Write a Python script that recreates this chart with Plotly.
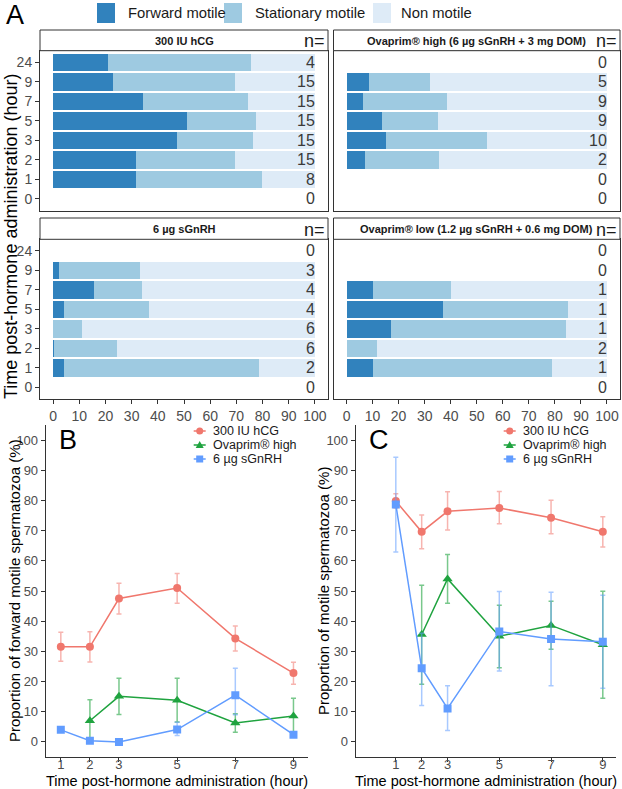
import plotly.graph_objects as go

W, H = 622, 789

# ---------------- data ----------------
hours_cat = ["0", "1", "2", "3", "5", "7", "9", "24"]
hours_num = [1, 2, 3, 5, 7, 9]
pct_ticks = list(range(0, 101, 10))

# mean forward-motile % and mean total-motile % per sampling time (None = not sampled)
hcg_forward = [None, 31.5, 31.5, 47.5, 51.0, 34.3, 22.8, 20.9]
hcg_motile = [None, 79.8, 69.6, 76.4, 77.5, 74.3, 69.6, 75.4]
hcg_n = [0, 8, 15, 15, 15, 15, 15, 4]

ovh_forward = [None, None, 7.0, 15.1, 13.8, 6.3, 8.6, None]
ovh_motile = [None, None, 35.6, 54.0, 35.0, 38.6, 32.2, None]
ovh_n = [0, 0, 2, 10, 9, 9, 5, 0]

sg_forward = [None, 4.0, 0.4, 0.0, 4.1, 15.5, 2.4, None]
sg_motile = [None, 78.7, 24.4, 11.1, 36.6, 34.1, 33.2, None]
sg_n = [0, 2, 6, 6, 4, 4, 3, 0]

ovl_forward = [None, 10.1, 0.0, 17.1, 37.1, 10.1, None, None]
ovl_motile = [None, 79.0, 11.6, 84.1, 85.2, 40.0, None, None]
ovl_n = [0, 1, 2, 1, 1, 1, 0, 0]

# error bar limits (upper / lower) at hours 1,2,3,5,7,9
hcg_fwd_hi = [36.3, 36.5, 52.6, 55.8, 38.4, 26.4]
hcg_fwd_lo = [26.7, 26.5, 42.4, 45.9, 30.1, 19.1]
ovh_fwd_hi = [None, 14.0, 21.1, 21.1, 9.3, 14.5]
ovh_fwd_lo = [None, 0.5, 9.1, 6.6, 3.2, 2.5]
sg_fwd_hi = [4.6, 0.9, 0.3, 6.5, 24.4, 3.3]
sg_fwd_lo = [3.4, 0.0, 0.0, 2.1, 9.0, 1.6]

hcg_mot_hi = [82.2, 75.2, 82.9, 83.0, 80.1, 74.6]
hcg_mot_lo = [77.5, 64.0, 70.2, 72.3, 69.0, 64.6]
ovh_mot_hi = [None, 51.9, 62.1, 45.3, 46.6, 49.9]
ovh_mot_lo = [None, 19.1, 45.9, 24.6, 30.7, 14.5]
sg_mot_hi = [94.3, 36.0, 18.6, 49.8, 49.6, 48.6]
sg_mot_lo = [62.9, 12.1, 3.8, 23.5, 18.6, 17.8]

categories = ["Forward motile", "Stationary motile", "Non motile"]
group_labels = ["300 IU hCG", "Ovaprim® high", "6 µg sGnRH"]

# ---------------- styles ----------------
FONT = "Liberation Sans, Arial, sans-serif"
BAR_COLORS = ["#3182BD", "#9ECAE1", "#DEEBF7"]
LINE_COLORS = ["#F0776D", "#1FA33F", "#619CFF"]
ERR_COLORS = ["rgba(240,119,109,0.55)", "rgba(31,163,63,0.6)", "rgba(97,156,255,0.55)"]
SYMBOLS = ["circle", "triangle-up", "square"]
SIZES = [8, 9, 8]
AX = "#333333"
TICK = "#4D4D4D"


def px(x):
    return x / W


def py(y):
    return 1 - y / H


fig = go.Figure()
annotations = []
shapes = []

# ---------------- panel A ----------------
panels = [
    ("", hcg_forward, hcg_motile, hcg_n, "300 IU hCG", (40, 328), (50.7, 210.7), (30, 50.7), True, False),
    ("2", ovh_forward, ovh_motile, ovh_n, "Ovaprim® high (6 µg sGnRH + 3 mg DOM)", (333.5, 620), (50.7, 210.7), (30, 50.7), False, False),
    ("3", sg_forward, sg_motile, sg_n, "6 µg sGnRH", (40, 328), (239.3, 399), (218, 239.3), True, True),
    ("4", ovl_forward, ovl_motile, ovl_n, "Ovaprim® low (1.2 µg sGnRH + 0.6 mg DOM)", (333.5, 620), (239.3, 399), (218, 239.3), False, True),
]

for suf, fwd, mot, nn, title, (x0, x1), (y0, y1), (s0, s1), left, bottom in panels:
    stat = [None if m is None else round(m - f, 2) for f, m in zip(fwd, mot)]
    non = [None if m is None else round(100 - m, 2) for m in mot]
    for vals, col, name in zip([fwd, stat, non], BAR_COLORS, categories):
        fig.add_trace(go.Bar(x=vals, y=hours_cat, orientation="h", width=0.9,
                             marker=dict(color=col, line=dict(width=0)), name=name,
                             showlegend=False, hoverinfo="skip",
                             xaxis="x" + suf, yaxis="y" + suf))
    for i, n in enumerate(nn):
        annotations.append(dict(x=100.8, y=i, xref="x" + suf, yref="y" + suf, text=str(n),
                                showarrow=False, xanchor="right", yanchor="middle",
                                font=dict(family=FONT, size=16, color="#3A3A3A")))
    fig.layout["xaxis" + suf] = dict(domain=[px(x0), px(x1)], range=[-5, 105], anchor="y" + suf,
                                     tickvals=pct_ticks, showticklabels=bottom,
                                     ticks="outside" if bottom else "", ticklen=4, tickcolor=AX,
                                     showline=True, mirror=True, linecolor=AX, linewidth=1,
                                     showgrid=False, zeroline=False,
                                     tickfont=dict(family=FONT, size=14, color=TICK))
    fig.layout["yaxis" + suf] = dict(domain=[py(y1), py(y0)], type="category",
                                     categoryorder="array", categoryarray=hours_cat,
                                     range=[-0.6, 7.6], anchor="x" + suf,
                                     showticklabels=left, ticks="outside" if left else "",
                                     ticklen=4, tickcolor=AX,
                                     showline=True, mirror=True, linecolor=AX, linewidth=1,
                                     showgrid=False, zeroline=False,
                                     tickfont=dict(family=FONT, size=14, color=TICK))
    shapes.append(dict(type="rect", xref="paper", yref="paper", x0=px(x0), x1=px(x1),
                       y0=py(s1), y1=py(s0), line=dict(color=AX, width=1), fillcolor="white"))
    annotations.append(dict(x=px((x0 + x1) / 2), y=py((s0 + s1) / 2 + 0.5), xref="paper", yref="paper",
                            text="<b>" + title + "</b>", showarrow=False,
                            xanchor="center", yanchor="middle",
                            font=dict(family=FONT, size=11, color="#1A1A1A")))
    annotations.append(dict(x=px(x1 - 1), y=py((s0 + s1) / 2 + 1), xref="paper", yref="paper",
                            text="n=", showarrow=False, xanchor="right", yanchor="middle",
                            font=dict(family=FONT, size=18, color="#1A1A1A")))

# panel A legend
leg_sq = [(97, 115), (224, 242), (373, 391)]
leg_tx = [126, 253, 399]
for (a, b), t, col, lab in zip(leg_sq, leg_tx, BAR_COLORS, categories):
    shapes.append(dict(type="rect", xref="paper", yref="paper", x0=px(a), x1=px(b),
                       y0=py(23), y1=py(3), line=dict(width=0), fillcolor=col))
    annotations.append(dict(x=px(t), y=py(13.5), xref="paper", yref="paper", text=lab,
                            showarrow=False, xanchor="left", yanchor="middle",
                            font=dict(family=FONT, size=14.8, color="#1A1A1A")))

annotations.append(dict(x=px(4), y=py(15), xref="paper", yref="paper", text="A", showarrow=False,
                        xanchor="left", yanchor="middle", font=dict(family=FONT, size=27, color="black")))
annotations.append(dict(x=px(11), y=py(237), xref="paper", yref="paper",
                        text="Time post-hormone administration (hour)", textangle=-90,
                        showarrow=False, xanchor="center", yanchor="middle",
                        font=dict(family=FONT, size=18, color="black")))

# ---------------- panels B and C ----------------
idx = [hours_cat.index(str(h)) for h in hours_num]


def pick(arr):
    return [arr[i] for i in idx]


def errs(mean, hi, lo):
    up = [None if m is None else round(h - m, 2) for m, h in zip(mean, hi)]
    dn = [None if m is None else round(m - l, 2) for m, l in zip(mean, lo)]
    return up, dn


line_panels = [
    ("5", [pick(hcg_forward), pick(ovh_forward), pick(sg_forward)],
     [(hcg_fwd_hi, hcg_fwd_lo), (ovh_fwd_hi, ovh_fwd_lo), (sg_fwd_hi, sg_fwd_lo)],
     (45.7, 308.3), [0.48, 9.51], "B", "Proportion of forward motile spermatozoa (%)", 14),
    ("6", [pick(hcg_motile), pick(ovh_motile), pick(sg_motile)],
     [(hcg_mot_hi, hcg_mot_lo), (ovh_mot_hi, ovh_mot_lo), (sg_mot_hi, sg_mot_lo)],
     (355.7, 616), [-0.55, 9.51], "C", "Proportion of motile spermatozoa (%)", 323),
]
PT, PB = 425, 757

for suf, means, lims, (x0, x1), xr, letter, ytitle, ytx in line_panels:
    for k in range(3):
        up, dn = errs(means[k], lims[k][0], lims[k][1])
        fig.add_trace(go.Scatter(x=hours_num, y=means[k], mode="lines+markers", name=group_labels[k],
                                 line=dict(color=LINE_COLORS[k], width=1.5),
                                 marker=dict(symbol=SYMBOLS[k], size=SIZES[k], color=LINE_COLORS[k]),
                                 error_y=dict(type="data", symmetric=False, array=up, arrayminus=dn,
                                              color=ERR_COLORS[k], thickness=1.5, width=2.5),
                                 showlegend=False, hoverinfo="skip",
                                 xaxis="x" + suf, yaxis="y" + suf))
    fig.layout["xaxis" + suf] = dict(domain=[px(x0), px(x1)], range=xr, anchor="y" + suf,
                                     tickvals=hours_num, ticks="outside", ticklen=4, tickcolor=AX,
                                     showline=True, linecolor=AX, linewidth=1,
                                     showgrid=False, zeroline=False, ticklabelstandoff=-9,
                                     tickfont=dict(family=FONT, size=13, color=TICK))
    fig.layout["yaxis" + suf] = dict(domain=[py(PB), py(PT)], range=[-5, 105], anchor="x" + suf,
                                     tickvals=pct_ticks, ticks="outside", ticklen=4, tickcolor=AX,
                                     showline=True, linecolor=AX, linewidth=1,
                                     showgrid=False, zeroline=False,
                                     tickfont=dict(family=FONT, size=13, color=TICK))
    annotations.append(dict(x=px((x0 + x1) / 2), y=py(781), xref="paper", yref="paper",
                            text="Time post-hormone administration (hour)", showarrow=False,
                            xanchor="center", yanchor="middle",
                            font=dict(family=FONT, size=14.5, color="black")))
    annotations.append(dict(x=px(ytx), y=py((PT + PB) / 2), xref="paper", yref="paper",
                            text=ytitle, textangle=-90, showarrow=False,
                            xanchor="center", yanchor="middle",
                            font=dict(family=FONT, size=15, color="black")))
    annotations.append(dict(x=px(x0 + 11), y=py(440), xref="paper", yref="paper", text=letter,
                            showarrow=False, xanchor="left", yanchor="middle",
                            font=dict(family=FONT, size=27, color="black")))
    # legend
    lx = x0 + 154
    for k, yy in enumerate([431, 445, 459]):
        c = LINE_COLORS[k]
        shapes.append(dict(type="line", xref="paper", yref="paper", x0=px(lx - 6), x1=px(lx + 6),
                           y0=py(yy), y1=py(yy), line=dict(color=c, width=1.5)))
        if k == 0:
            shapes.append(dict(type="circle", xref="paper", yref="paper", x0=px(lx - 3.5), x1=px(lx + 3.5),
                               y0=py(yy + 3.5), y1=py(yy - 3.5), line=dict(width=0), fillcolor=c))
        elif k == 1:
            path = "M {} {} L {} {} L {} {} Z".format(px(lx - 4), py(yy + 3), px(lx + 4), py(yy + 3),
                                                      px(lx), py(yy - 4))
            shapes.append(dict(type="path", xref="paper", yref="paper", path=path,
                               line=dict(width=0), fillcolor=c))
        else:
            shapes.append(dict(type="rect", xref="paper", yref="paper", x0=px(lx - 3.5), x1=px(lx + 3.5),
                               y0=py(yy + 3.5), y1=py(yy - 3.5), line=dict(width=0), fillcolor=c))
        annotations.append(dict(x=px(lx + 12), y=py(yy), xref="paper", yref="paper",
                                text=group_labels[k], showarrow=False, xanchor="left", yanchor="middle",
                                borderpad=0,
                                font=dict(family=FONT, size=12.5, color="#1A1A1A")))

fig.update_layout(width=W, height=H, margin=dict(l=0, r=0, t=0, b=0),
                  paper_bgcolor="white", plot_bgcolor="white", barmode="stack", bargap=0.1,
                  annotations=annotations, shapes=shapes, showlegend=False,
                  font=dict(family=FONT))

fig.write_html("out.html")
